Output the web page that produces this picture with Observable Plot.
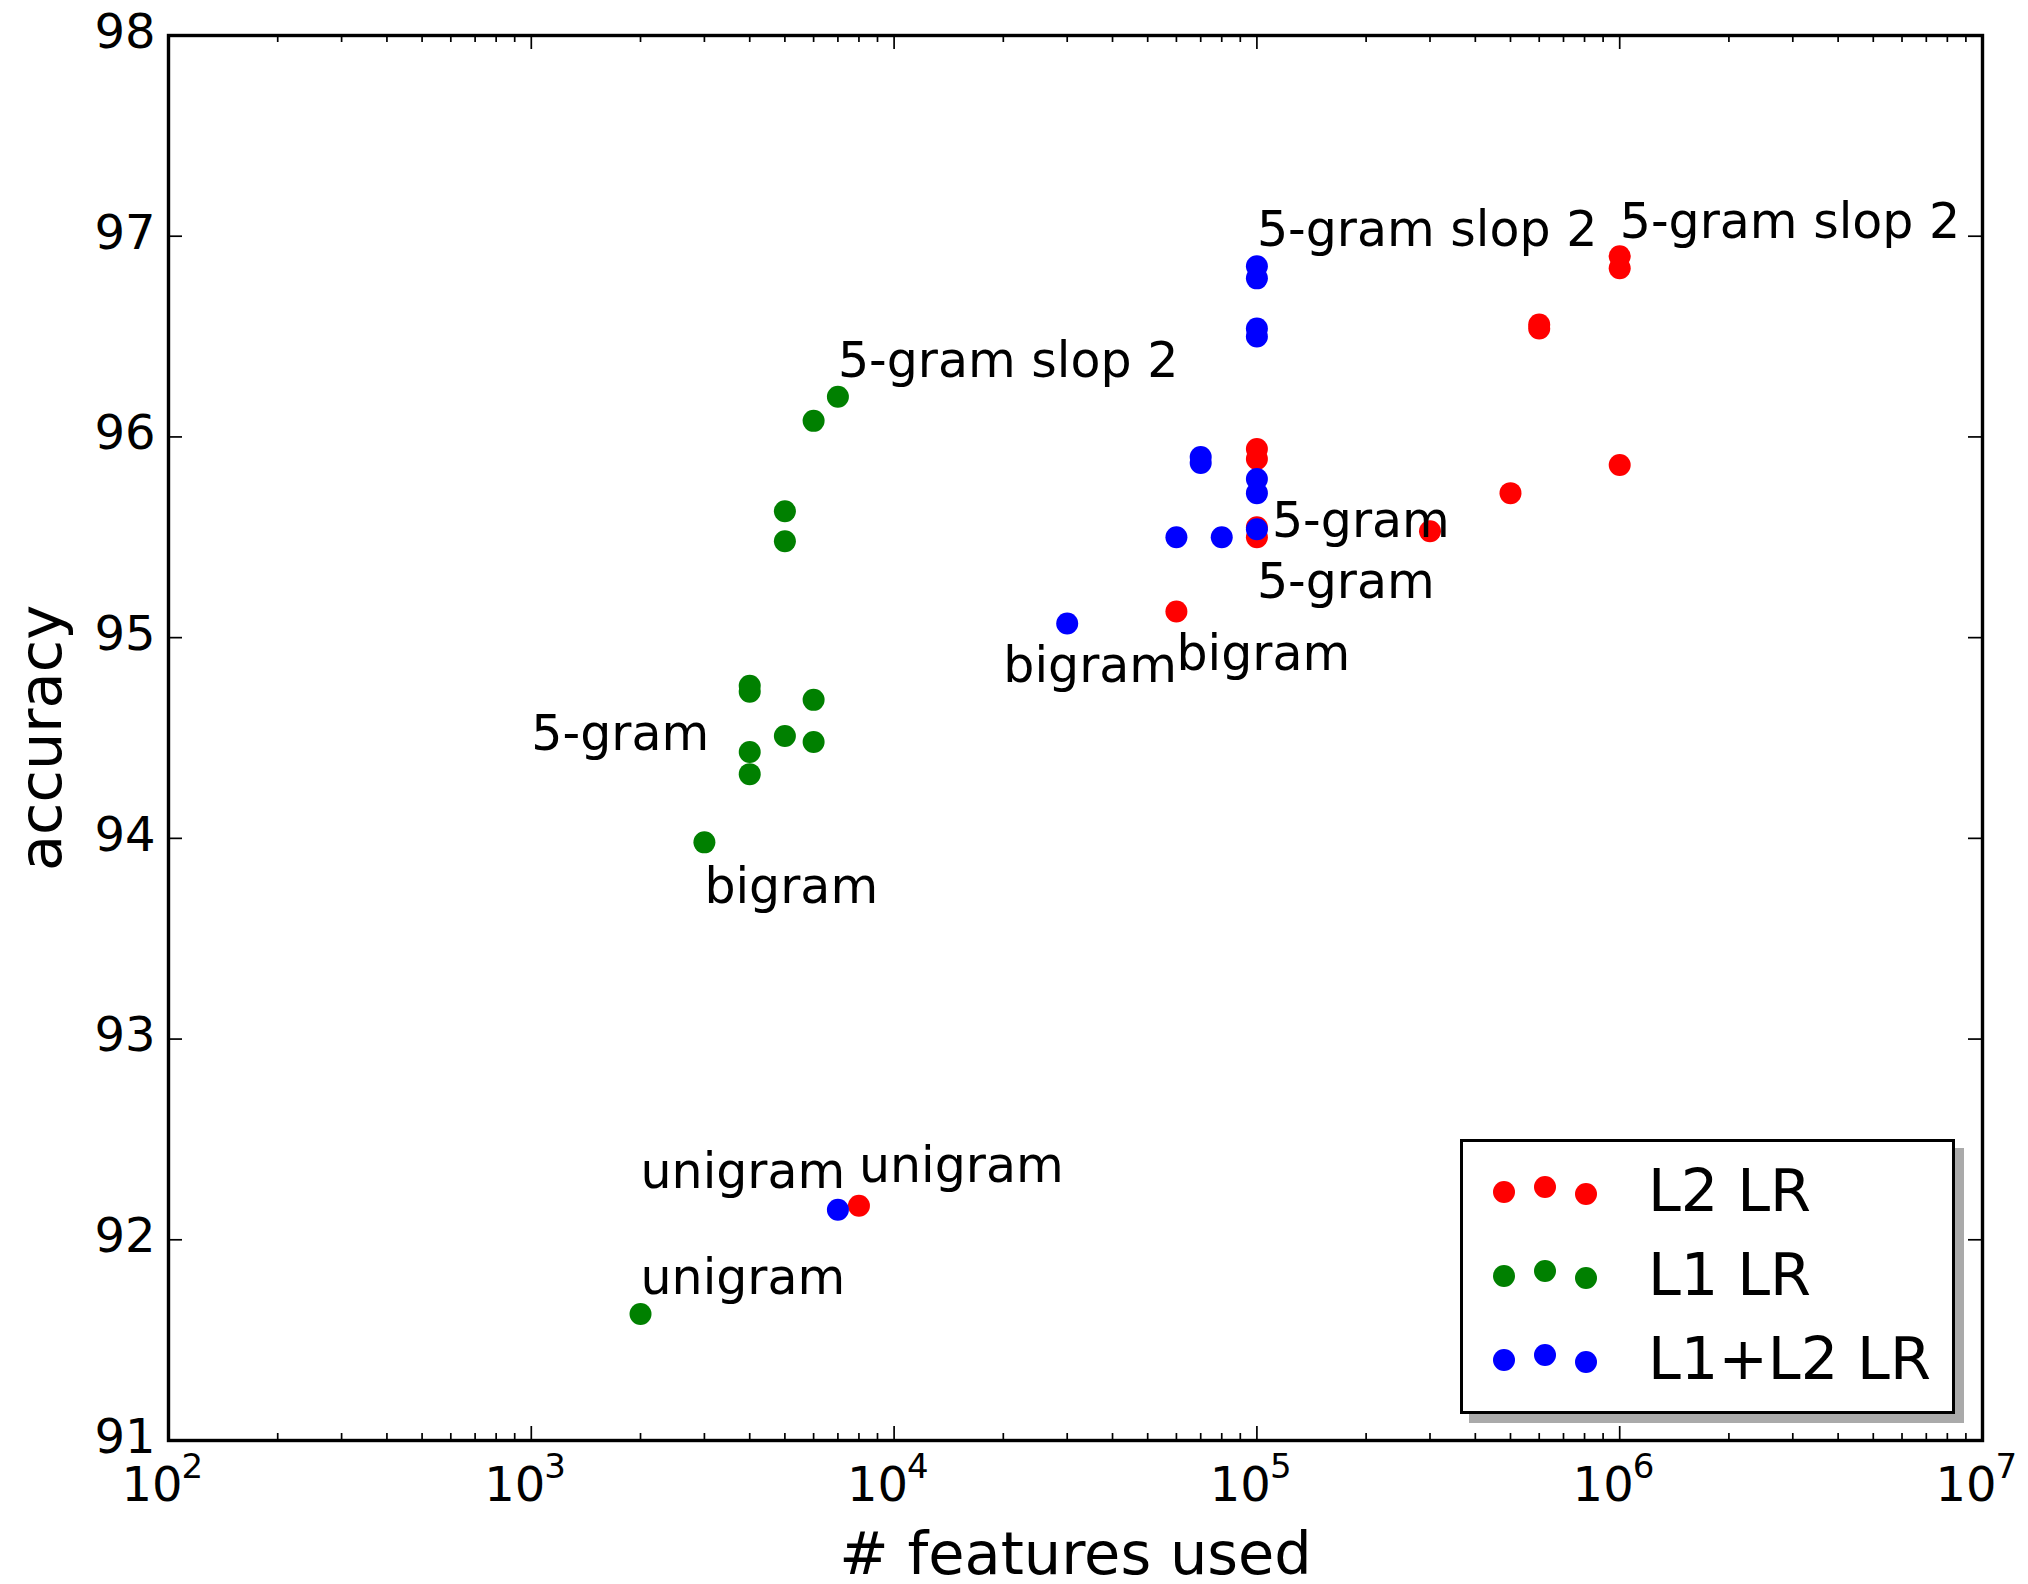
<!DOCTYPE html>
<html>
<head>
<meta charset="utf-8">
<script src="https://cdn.jsdelivr.net/npm/d3@7"></script>
<script src="https://cdn.jsdelivr.net/npm/@observablehq/plot@0.6"></script>
<style>
  body { margin: 0; background: #fff; }
  #wrap { position: relative; width: 2028px; height: 1584px; font-family: "DejaVu Sans", sans-serif; }
  #chart { position: absolute; left: 0; top: 0; }
  #legendBox { position: absolute; box-sizing: border-box; left: 1460px; top: 1139px; width: 495px; height: 275px;
               border: 3.5px solid #000; background: #fff; box-shadow: 9px 9px 0 #aaaaaa; }
  #legendSvg { position: absolute; left: 0; top: 0; pointer-events: none; }
</style>
</head>
<body>
<div id="wrap"><div id="chart"></div></div>
<script>
// ---- Data ----
const seriesNames  = ["L2 LR", "L1 LR", "L1+L2 LR"];
const seriesColors = ["#ff0000", "#008000", "#0000ff"];

const l2Features = [8000, 60000, 100000, 100000, 100000, 100000, 300000, 500000, 600000, 600000, 1000000, 1000000, 1000000];
const l2Accuracy = [92.17, 95.13, 95.94, 95.89, 95.55, 95.50, 95.53, 95.72, 96.56, 96.54, 96.90, 96.84, 95.86];

const l1Features = [2000, 3000, 4000, 4000, 4000, 4000, 5000, 5000, 5000, 6000, 6000, 6000, 7000];
const l1Accuracy = [91.63, 93.98, 94.76, 94.73, 94.43, 94.32, 95.63, 95.48, 94.51, 96.08, 94.69, 94.48, 96.20];

const l12Features = [7000, 30000, 60000, 70000, 70000, 80000, 100000, 100000, 100000, 100000, 100000, 100000, 100000];
const l12Accuracy = [92.15, 95.07, 95.50, 95.90, 95.87, 95.50, 96.85, 96.79, 96.54, 96.50, 95.79, 95.72, 95.54];

const labelText = ["5-gram slop 2", "5-gram slop 2", "5-gram slop 2", "5-gram", "5-gram", "bigram", "bigram", "5-gram", "bigram", "unigram", "unigram", "unigram"];
const labelX    = [7000, 100000, 1000000, 110000, 100000, 20000, 60000, 1000, 3000, 2000, 2000, 8000];
const labelY    = [96.30, 96.95, 96.99, 95.50, 95.20, 94.78, 94.84, 94.44, 93.68, 91.73, 92.26, 92.29];

const xTickValues    = [1e2, 1e3, 1e4, 1e5, 1e6, 1e7];
const xTickBase      = ["10", "10", "10", "10", "10", "10"];
const xTickExponents = ["2", "3", "4", "5", "6", "7"];
const xMinorTicks = [
  200, 300, 400, 500, 600, 700, 800, 900,
  2000, 3000, 4000, 5000, 6000, 7000, 8000, 9000,
  20000, 30000, 40000, 50000, 60000, 70000, 80000, 90000,
  200000, 300000, 400000, 500000, 600000, 700000, 800000, 900000,
  2000000, 3000000, 4000000, 5000000, 6000000, 7000000, 8000000, 9000000
];
const yTickValues = [91, 92, 93, 94, 95, 96, 97, 98];

const xLabel = "# features used";
const yLabel = "accuracy";

// ---- Build tables ----
const featureArrays  = [l2Features, l1Features, l12Features];
const accuracyArrays = [l2Accuracy, l1Accuracy, l12Accuracy];
const points = seriesNames.flatMap((name, s) =>
  featureArrays[s].map((f, i) => ({features: f, accuracy: accuracyArrays[s][i], series: name})));
const labels = labelText.map((t, i) => ({text: t, x: labelX[i], y: labelY[i]}));
const xTicks = xTickValues.map((v, i) => ({v, base: xTickBase[i], exp: xTickExponents[i]}));

// ---- Layout ----
const W = 2028, H = 1584;
const mL = 168, mR = 46, mT = 35, mB = 144;
const plotW = W - mL - mR, plotH = H - mT - mB;
const majorLen = 14, minorLen = 7, tickW = 1.7;
const tickFs = 48, annFs = 49, titleFs = 59;

const chart = Plot.plot({
  width: W, height: H,
  marginLeft: mL, marginRight: mR, marginTop: mT, marginBottom: mB,
  style: {fontFamily: "DejaVu Sans", background: "white", overflow: "visible", color: "black"},
  x: {type: "log", domain: [1e2, 1e7], axis: null},
  y: {domain: [91, 98], axis: null},
  color: {type: "ordinal", domain: seriesNames, range: seriesColors},
  marks: [
    // ticks pointing inward on all four sides
    Plot.tickX(xTickValues, {x: d => d, insetTop: plotH - majorLen, stroke: "black", strokeWidth: tickW}),
    Plot.tickX(xMinorTicks, {x: d => d, insetTop: plotH - minorLen, stroke: "black", strokeWidth: tickW}),
    Plot.tickX(xTickValues, {x: d => d, insetBottom: plotH - majorLen, stroke: "black", strokeWidth: tickW}),
    Plot.tickX(xMinorTicks, {x: d => d, insetBottom: plotH - minorLen, stroke: "black", strokeWidth: tickW}),
    Plot.tickY(yTickValues, {y: d => d, insetRight: plotW - majorLen, stroke: "black", strokeWidth: tickW}),
    Plot.tickY(yTickValues, {y: d => d, insetLeft: plotW - majorLen, stroke: "black", strokeWidth: tickW}),
    // data points
    Plot.dot(points, {x: "features", y: "accuracy", fill: "series", r: 11}),
    // annotations
    Plot.text(labels, {x: "x", y: "y", text: "text", textAnchor: "start", lineAnchor: "bottom", fontSize: annFs, fill: "black"}),
    // frame
    Plot.frame({stroke: "black", strokeWidth: 3.4}),
    // tick labels
    Plot.text(yTickValues, {y: d => d, frameAnchor: "left", text: d => String(d), textAnchor: "end", dx: -13, dy: -3, fontSize: tickFs, fill: "black"}),
    Plot.text(xTicks, {x: "v", frameAnchor: "bottom", text: "base", textAnchor: "end", lineAnchor: "bottom", dx: 14, dy: 60, fontSize: tickFs, fill: "black"}),
    Plot.text(xTicks, {x: "v", frameAnchor: "bottom", text: "exp", textAnchor: "start", lineAnchor: "bottom", dx: 13, dy: 37, fontSize: 34, fill: "black"}),
    // axis titles
    Plot.text([xLabel], {frameAnchor: "bottom", text: d => d, textAnchor: "middle", lineAnchor: "bottom", dy: 133, fontSize: titleFs, fill: "black"}),
    Plot.text([yLabel], {frameAnchor: "left", text: d => d, textAnchor: "middle", lineAnchor: "middle", rotate: -90, dx: -126, fontSize: titleFs, fill: "black"})
  ]
});
document.getElementById("chart").appendChild(chart);

// ---- Legend (inside the axes, lower right) ----
const wrap = d3.select("#wrap");
wrap.append("div").attr("id", "legendBox");
const lsvg = wrap.append("svg").attr("id", "legendSvg").attr("width", W).attr("height", H);
const rowY0 = 1192, rowStep = 84;
const dotX = [1504, 1545, 1586], dotDy = [0, -5, 2];
const textX = 1648, textBaselineOffset = 19;
seriesNames.forEach((name, i) => {
  const cy = rowY0 + i * rowStep;
  dotX.forEach((x, j) => {
    lsvg.append("circle").attr("cx", x).attr("cy", cy + dotDy[j]).attr("r", 11).attr("fill", seriesColors[i]);
  });
  lsvg.append("text").attr("x", textX).attr("y", cy + textBaselineOffset)
    .attr("font-family", "DejaVu Sans").attr("font-size", 59).attr("fill", "black").text(name);
});
</script>
</body>
</html>
